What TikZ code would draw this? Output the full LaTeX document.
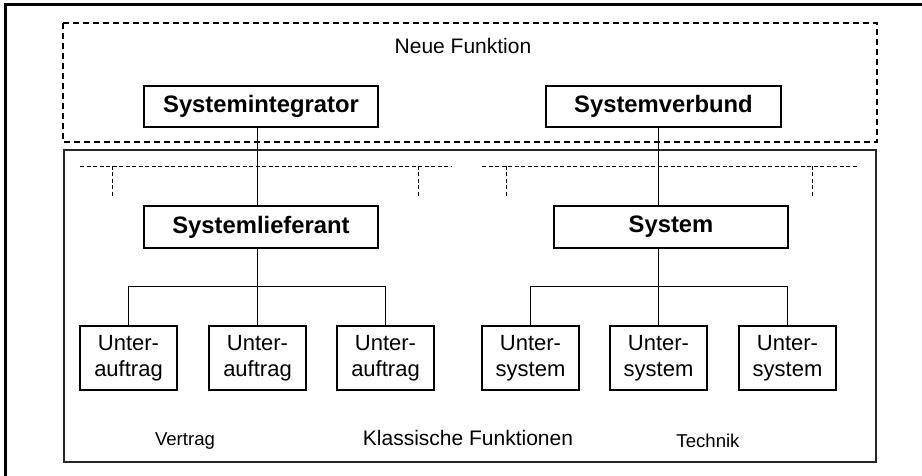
\documentclass[tikz,border=0pt]{standalone}
\usepackage{fontspec}
\setmainfont{Liberation Sans}
\begin{document}
\begin{tikzpicture}[x=1pt,y=-1pt,
  boldbox/.style={draw,line width=2.4pt,fill=white,inner sep=0pt,minimum width=234pt,minimum height=41pt,font=\fontsize{23.8}{28}\selectfont\bfseries},
  smallbox/.style={draw,line width=2.4pt,fill=white,inner sep=0pt,minimum width=97pt,minimum height=64pt,align=center,font=\fontsize{22}{25.5}\selectfont},
  conn/.style={line width=1pt},
  thindash/.style={line width=0.8pt,dash pattern=on 4pt off 2.5pt},
  lbl/.style={inner sep=0pt,font=\fontsize{21}{25}\selectfont},
  smalllbl/.style={inner sep=0pt,font=\fontsize{18.6}{22}\selectfont}]
\useasboundingbox (0,0) rectangle (922,476);
% outer frame (top and left visible)
\draw[line width=3pt] (922,5) -- (5,5) -- (5,476);
% dashed "Neue Funktion" box
\draw[line width=1.6pt,dash pattern=on 6pt off 4pt] (63,23) rectangle (877,142);
% inner solid box
\draw[line width=1.3pt,black!85] (64,150) rectangle (876,462);
\node[lbl] (neu) at (463,46) {Neue Funktion};
% dashed brackets
\coordinate (dl1) at (80,166); \coordinate (dl2) at (451,166);
\coordinate (tl1) at (112,166); \coordinate (tl2) at (418,166);
\coordinate (dr1) at (482,166); \coordinate (dr2) at (858,166);
\coordinate (tr1) at (506,166); \coordinate (tr2) at (812,166);
\draw[thindash] (dl1) -- (dl2);
\draw[thindash] (dr1) -- (dr2);
\draw[thindash] (tl1) -- ++(0,32);
\draw[thindash] (tl2) -- ++(0,32);
\draw[thindash] (tr1) -- ++(0,32);
\draw[thindash] (tr2) -- ++(0,32);
% boxes
\node[boldbox] (integ) at (261,106.5) {Systemintegrator};
\node[boldbox,minimum width=235pt] (verb) at (663.5,106.5) {Systemverbund};
\node[boldbox,minimum height=42pt] (lief) at (261,227) {Systemlieferant};
\node[boldbox,minimum height=42pt] (sys) at (671,227) {System};
\node[smallbox] (u1) at (128.5,358) {Unter-\\auftrag};
\node[smallbox] (u2) at (257.5,358) {Unter-\\auftrag};
\node[smallbox] (u3) at (385.5,358) {Unter-\\auftrag};
\node[smallbox] (s1) at (530.5,358) {Unter-\\system};
\node[smallbox] (s2) at (658.5,358) {Unter-\\system};
\node[smallbox] (s3) at (787.5,358) {Unter-\\system};
% connectors
\coordinate (barL) at (257.5,286);
\coordinate (barR) at (658.5,286);
\draw[conn] (integ.south -| u2) -- (lief.north -| u2);
\draw[conn] (lief.south -| u2) -- (u2.north);
\draw[conn] (u1.north) -- (u1.north |- barL) -- (u3.north |- barL) -- (u3.north);
\draw[conn] (verb.south -| s2) -- (sys.north -| s2);
\draw[conn] (sys.south -| s2) -- (s2.north);
\draw[conn] (s1.north) -- (s1.north |- barR) -- (s3.north |- barR) -- (s3.north);
% labels
\node[smalllbl] (vert) at (185,441) {Vertrag};
\node[lbl] (klass) at (468,438) {Klassische Funktionen};
\node[smalllbl] (tech) at (708,441) {Technik};
\end{tikzpicture}
\end{document}
